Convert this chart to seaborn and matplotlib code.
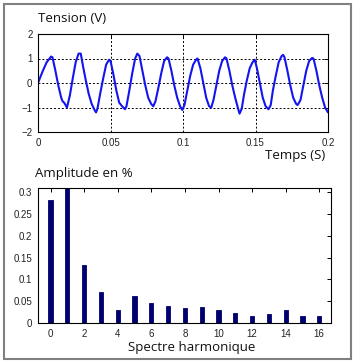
import matplotlib
matplotlib.use("Agg")
import matplotlib.pyplot as plt
import seaborn as sns
import pandas as pd
from matplotlib.patches import Rectangle

# --- Data ---
time_s = [0.000, 0.003, 0.006, 0.008, 0.009, 0.010, 0.012, 0.014, 0.016, 0.017, 0.018, 0.020,
          0.022, 0.024, 0.026, 0.028, 0.0295, 0.031, 0.033, 0.035, 0.037, 0.039, 0.040,
          0.041, 0.043, 0.045, 0.047, 0.049, 0.050, 0.052, 0.054, 0.056, 0.058, 0.060,
          0.061, 0.063, 0.065, 0.067, 0.0685, 0.070, 0.072, 0.074, 0.076, 0.078, 0.0795,
          0.081, 0.083, 0.085, 0.087, 0.089, 0.090, 0.092, 0.094, 0.096, 0.098, 0.0995,
          0.101, 0.103, 0.105, 0.107, 0.109, 0.110, 0.112, 0.114, 0.116, 0.118, 0.1195,
          0.121, 0.123, 0.125, 0.127, 0.129, 0.130, 0.132, 0.134, 0.136, 0.138, 0.139,
          0.1405, 0.142, 0.144, 0.146, 0.148, 0.1495, 0.151, 0.153, 0.155, 0.157, 0.159,
          0.1605, 0.162, 0.164, 0.166, 0.168, 0.169, 0.170, 0.172, 0.174, 0.176, 0.178, 0.179,
          0.181, 0.183, 0.185, 0.187, 0.189, 0.190, 0.192, 0.194, 0.196, 0.198, 0.200]
voltage = [0.0, 0.45, 0.85, 1.0, 1.08, 1.05, 0.5, -0.1, -0.6, -0.75, -0.8, -1.0,
           -0.5, 0.2, 0.85, 1.2, 1.2, 0.7, 0.1, -0.45, -0.85, -1.1, -1.2,
           -1.05, -0.4, 0.2, 0.75, 0.95, 0.9, 0.35, -0.3, -0.8, -0.95, -1.07,
           -0.95, -0.3, 0.4, 1.0, 1.2, 1.1, 0.5, -0.1, -0.6, -0.85, -0.95,
           -0.75, -0.2, 0.4, 0.9, 1.05, 1.0, 0.5, -0.1, -0.6, -0.95, -1.1,
           -0.9, -0.3, 0.3, 0.75, 0.95, 1.0, 0.6, 0.0, -0.6, -0.95, -1.0,
           -0.7, -0.1, 0.5, 0.9, 1.05, 1.0, 0.5, -0.1, -0.6, -1.05, -1.25,
           -1.05, -0.5, 0.1, 0.6, 0.85, 0.95, 0.6, 0.0, -0.6, -0.95, -1.07,
           -0.9, -0.3, 0.3, 0.85, 1.1, 1.15, 1.05, 0.5, -0.1, -0.6, -0.85, -0.9,
           -0.7, -0.1, 0.5, 0.9, 1.02, 1.0, 0.5, -0.1, -0.6, -1.0, -1.2]

harmonics = list(range(17))
amplitude = [0.283, 0.32, 0.134, 0.071, 0.029, 0.062, 0.045, 0.038, 0.035,
             0.036, 0.031, 0.022, 0.017, 0.020, 0.029, 0.016, 0.016]

top_xticks = [0, 0.05, 0.1, 0.15, 0.2]
top_xticklabels = ["0", "0.05", "0.1", "0.15", "0.2"]
top_yticks = [-2, -1, 0, 1, 2]
bot_yticks = [0, 0.05, 0.1, 0.15, 0.2, 0.25, 0.3]
bot_yticklabels = ["0", "0.05", "0.1", "0.15", "0.2", "0.25", "0.3"]
bot_xticks = list(range(0, 17, 2))

sns.set_theme(style="white")
plt.rcParams["font.family"] = ["Liberation Sans", "DejaVu Sans"]

W, H = 355, 363
fig = plt.figure(figsize=(W / 100, H / 100), dpi=100)
fig.patch.set_facecolor("white")

def frac(l, t, r, b):
    return [l / W, 1 - b / H, (r - l) / W, (b - t) / H]

ax1 = fig.add_axes(frac(38, 34, 328, 132))
ax2 = fig.add_axes(frac(38, 188, 331, 323))

wave = pd.DataFrame({"t": time_s, "v": voltage})
sns.lineplot(data=wave, x="t", y="v", ax=ax1, color="#1414f0", linewidth=1.5)
ax1.set_xlim(0, 0.2)
ax1.set_ylim(-2, 2)
ax1.set_xticks(top_xticks)
ax1.set_xticklabels(top_xticklabels)
ax1.set_yticks(top_yticks)
ax1.grid(True, linestyle=(0, (2, 2)), color="black", linewidth=0.7)
ax1.set_xlabel("")
ax1.set_ylabel("")

spec = pd.DataFrame({"h": harmonics, "a": amplitude})
sns.barplot(data=spec, x="h", y="a", ax=ax2, color="#00006e", width=0.25,
            saturation=1, order=harmonics, edgecolor="#00006e", linewidth=0.6)
ax2.set_xlim(-0.75, 16.7)
ax2.set_ylim(0, 0.31)
ax2.set_xticks(bot_xticks)
ax2.set_xticklabels([str(x) for x in bot_xticks])
ax2.set_yticks(bot_yticks)
ax2.set_yticklabels(bot_yticklabels)
ax2.set_xlabel("")
ax2.set_ylabel("")

for ax in (ax1, ax2):
    for s in ax.spines.values():
        s.set_visible(True)
        s.set_color("black")
        s.set_linewidth(0.8)
    ax.tick_params(direction="in", length=3, width=0.7, top=True, right=True,
                   labelsize=7, pad=4, colors="black")
    ax.tick_params(labelcolor="#222222")
    ax.set_facecolor("white")

lab = dict(family=["Open Sans", "DejaVu Sans"], fontsize=9.5, color="#111111")
fig.text(38 / W, 1 - 18 / H, "Tension (V)", ha="left", va="center", **lab)
fig.text(325 / W, 1 - 155 / H, "Temps (S)", ha="right", va="center", **lab)
fig.text(35 / W, 1 - 173 / H, "Amplitude en %", ha="left", va="center", **lab)
fig.text(192 / W, 1 - 347 / H, "Spectre harmonique", ha="center", va="center", **lab)

fig.patches.append(Rectangle((3.5 / W, 1 - 358.5 / H), 347.5 / W, 354.5 / H,
                             transform=fig.transFigure, fill=False,
                             edgecolor="#808080", linewidth=1.5))

fig.savefig("out.png", dpi=100)
